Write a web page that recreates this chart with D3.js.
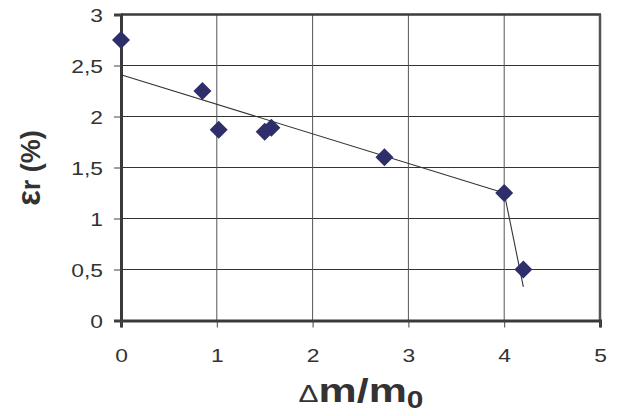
<!DOCTYPE html>
<html>
<head>
<meta charset="utf-8">
<script src="https://cdn.jsdelivr.net/npm/d3@7"></script>
<style>
  body { margin: 0; background: #fff; }
  svg { display: block; font-family: "Liberation Sans", Arial, sans-serif; }
</style>
</head>
<body>
<svg width="618" height="416"></svg>
<script>
var xValues = [0, 0.85, 1.02, 1.5, 1.57, 2.75, 4.0, 4.2];
var yValues = [2.75, 2.25, 1.87, 1.85, 1.89, 1.6, 1.25, 0.5];
var xTicks = [0, 1, 2, 3, 4, 5];
var yTicks = [0, 0.5, 1, 1.5, 2, 2.5, 3];
var yTickLabels = ["0", "0,5", "1", "1,5", "2", "2,5", "3"];
// fitted lines, two pieces
var fit1 = [[0, 2.41], [4.0, 1.25]];
var fit2 = [[4.0, 1.25], [4.2, 0.33]];

var svg = d3.select("svg"),
    margin = {top: 14.5, left: 121, right: 18, bottom: 95.5},
    width = 618 - margin.left - margin.right,
    height = 416 - margin.top - margin.bottom,
    stretch = 1.2; // the original text looks widened

var x = d3.scaleLinear().domain([0, 5]).range([0, width]),
    y = d3.scaleLinear().domain([0, 3]).range([height, 0]);

var g = svg.append("g").attr("transform", "translate(" + margin.left + "," + margin.top + ")");

function widen(sel, k) {
  sel.each(function() {
    var len = this.getComputedTextLength();
    d3.select(this).attr("textLength", len * k).attr("lengthAdjust", "spacingAndGlyphs");
  });
}

// grid
g.selectAll(".hgrid").data(yTicks.slice(1, -1)).enter().append("line")
    .attr("x1", 0).attr("x2", width)
    .attr("y1", function(d) { return y(d); }).attr("y2", function(d) { return y(d); })
    .attr("stroke", "#333").attr("stroke-width", 1);
g.selectAll(".vgrid").data(xTicks.slice(1, -1)).enter().append("line")
    .attr("y1", 0).attr("y2", height)
    .attr("x1", function(d) { return x(d); }).attr("x2", function(d) { return x(d); })
    .attr("stroke", "#555").attr("stroke-width", 1);

// frame top/right
g.append("line").attr("x1", 0).attr("x2", width + 1).attr("y1", 0).attr("y2", 0)
    .attr("stroke", "#3a3a3e").attr("stroke-width", 2.5);
g.append("line").attr("x1", width).attr("x2", width).attr("y1", 0).attr("y2", height)
    .attr("stroke", "#555").attr("stroke-width", 2.5);

// axes
var yAxis = g.append("g")
    .call(d3.axisLeft(y).tickValues(yTicks).tickSize(7).tickPadding(11)
      .tickFormat(function(d, i) { return yTickLabels[i]; }));
var xAxis = g.append("g").attr("transform", "translate(0," + height + ")")
    .call(d3.axisBottom(x).tickValues(xTicks).tickSize(7).tickPadding(21).tickFormat(d3.format("d")));
[xAxis, yAxis].forEach(function(a) {
  a.select(".domain").attr("stroke", "#3a3a3e").attr("stroke-width", 3);
  a.selectAll(".tick line").attr("stroke", "#444");
  a.selectAll("text").style("font-size", "19px").attr("fill", "#333");
  widen(a.selectAll("text"), stretch);
});
yAxis.selectAll("text").attr("dy", "0.36em");

// trend lines
var line = d3.line().x(function(d) { return x(d[0]); }).y(function(d) { return y(d[1]); });
[fit1, fit2].forEach(function(f) {
  g.append("path").attr("d", line(f)).attr("fill", "none")
    .attr("stroke", "#333").attr("stroke-width", 1.1);
});

// points
var s = 9;
g.selectAll(".pt").data(xValues).enter().append("path")
    .attr("d", "M0," + (-s) + "L" + s + ",0L0," + s + "L" + (-s) + ",0Z")
    .attr("transform", function(d, i) { return "translate(" + x(d) + "," + y(yValues[i]) + ")"; })
    .attr("fill", "#2e2e6b");

// axis titles
var yt = svg.append("text")
    .attr("transform", "translate(40,168) rotate(-90)")
    .attr("text-anchor", "middle")
    .style("font-weight", "bold").attr("fill", "#333");
yt.append("tspan").style("font-size", "33px").text("ε");
yt.append("tspan").style("font-size", "27px").text("r (%)");

var xt = svg.append("text")
    .attr("x", 361).attr("y", 402)
    .attr("text-anchor", "middle")
    .attr("fill", "#333");
xt.append("tspan").style("font-size", "23px").text("Δ");
xt.append("tspan").style("font-size", "33px").style("font-weight", "bold").text("m/m");
xt.append("tspan").style("font-size", "23px").style("font-weight", "bold").attr("dy", 6).text("0");
widen(xt, 1.3);
</script>
</body>
</html>
